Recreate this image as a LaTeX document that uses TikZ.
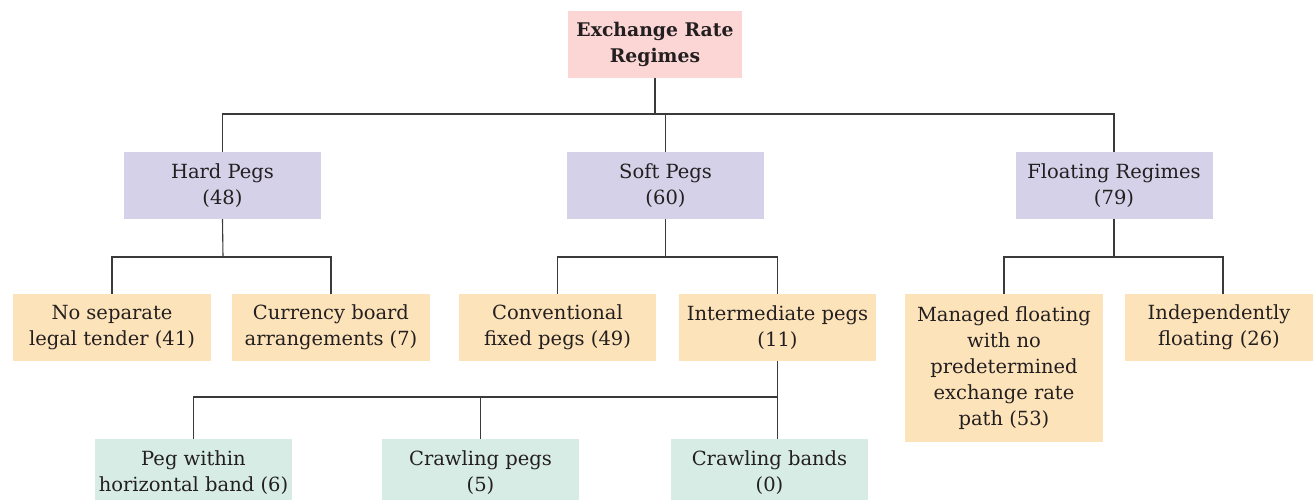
\documentclass[tikz,border=0pt]{standalone}
\usepackage{fontspec}
\setmainfont{DejaVu Serif}
\definecolor{rootfill}{HTML}{FCD5D5}
\definecolor{midfill}{HTML}{D5D1E8}
\definecolor{leaffill}{HTML}{FDE3B9}
\definecolor{lowfill}{HTML}{D7ECE4}
\definecolor{linecol}{HTML}{3A3A3A}
\definecolor{txtcol}{HTML}{231F20}
\begin{document}
\begin{tikzpicture}[x=1pt,y=1pt,
  box/.style={inner sep=0pt, align=center, text=txtcol,
    font=\fontsize{19.5}{26}\selectfont, minimum width=197pt, minimum height=67pt},
  rootbox/.style={box, fill=rootfill, minimum width=174pt, font=\fontsize{18.8}{26}\selectfont\bfseries},
  midbox/.style={box, fill=midfill},
  leafbox/.style={box, fill=leaffill},
  lowbox/.style={box, fill=lowfill},
  conn/.style={draw=linecol, line width=1.1pt}]
\useasboundingbox (0,0) rectangle (1314,-500);
% level 0
\node[rootbox] (root) at (655,-44.5) {Exchange Rate\\Regimes};
% level 1
\node[midbox] (hard) at (222.5,-185.5) {Hard Pegs\\(48)};
\node[midbox] (soft) at (665.5,-185.5) {Soft Pegs\\(60)};
\node[midbox] (float) at (1114,-185.5) {Floating Regimes\\(79)};
% level 2
\node[leafbox, minimum width=198pt] (nosep) at (112,-327.5) {No separate\\legal tender (41)};
\node[leafbox, minimum width=198pt] (curr) at (331,-327.5) {Currency board\\arrangements (7)};
\node[leafbox] (conv) at (557.5,-327.5) {Conventional\\fixed pegs (49)};
\node[leafbox] (inter) at (777.5,-327.5) {Intermediate pegs\\(11)};
\node[leafbox, minimum width=198pt, minimum height=148pt] (managed) at (1004,-368) {Managed floating\\with no\\predetermined\\exchange rate\\path (53)};
\node[leafbox, minimum width=188pt] (indep) at (1219,-327.5) {Independently\\floating (26)};
% level 3
\node[lowbox] (pegband) at (193.5,-472.5) {Peg within\\horizontal band (6)};
\node[lowbox] (cpegs) at (480.5,-472.5) {Crawling pegs\\(5)};
\node[lowbox] (cbands) at (769.5,-472.5) {Crawling bands\\(0)};
% junctions
\coordinate (j1) at (655,-114);
\coordinate (j2) at (223,-257);
\coordinate (j3) at (665.5,-257);
\coordinate (j4) at (1114,-257);
\coordinate (j5) at (777.5,-397);
% connectors
\draw[conn] (root.south) -- (j1);
\draw[conn] (hard.north) |- (j1) -| (float.north);
\draw[conn] (soft.north) -- (soft.north |- j1);
\draw[conn] (hard.south) -- (j2);
\draw[conn] (nosep.north) |- (j2) -| (curr.north);
\draw[conn] (soft.south) -- (j3);
\draw[conn] (conv.north) |- (j3) -| (inter.north);
\draw[conn] (float.south) -- (j4);
\draw[conn] (managed.north) |- (j4) -| ([xshift=4pt]indep.north);
\draw[conn] (inter.south) -- (inter.south |- cbands.north);
\draw[conn] (pegband.north) |- (j5);
\draw[conn] (cpegs.north) -- (cpegs.north |- j5);
\end{tikzpicture}
\end{document}
